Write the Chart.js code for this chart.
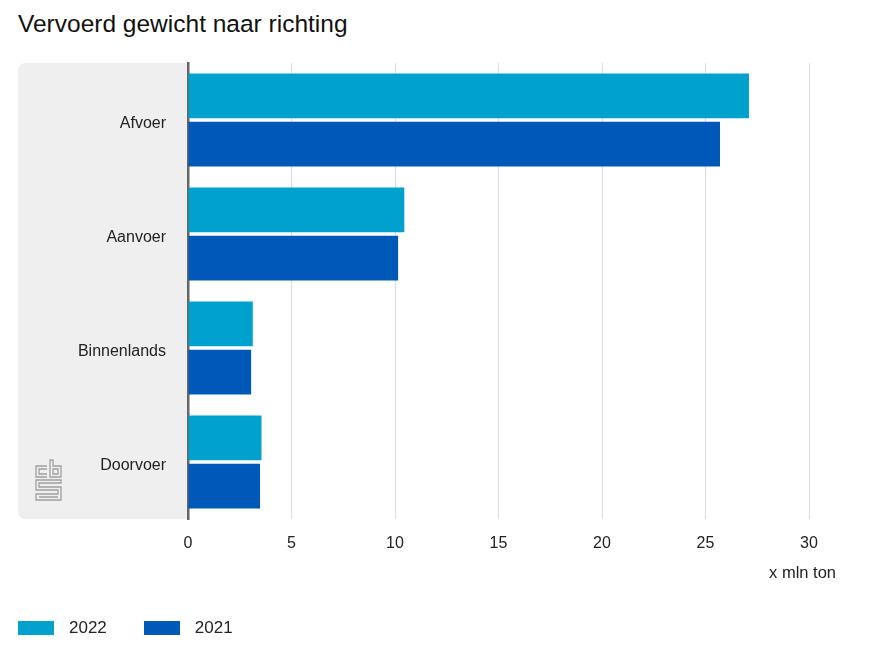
<!DOCTYPE html>
<html>
<head>
<meta charset="utf-8">
<script src="https://cdn.jsdelivr.net/npm/chart.js@4/dist/chart.umd.min.js"></script>
<style>
  body{ margin:0; background:#fff; font-family:"Liberation Sans", Arial, sans-serif; }
  #wrap{ position:relative; width:874px; height:656px; }
  #title{ position:absolute; left:18px; top:10px; font-size:24.5px; color:#111; }
  #unit{ position:absolute; right:38px; top:563px; font-size:16.5px; color:#222; }
  #legend{ position:absolute; left:18px; top:618px; display:flex; font-size:17px; color:#222; }
  .item{ display:flex; align-items:center; margin-right:37px; }
  .box{ width:36px; height:14px; margin-right:15px; }
  canvas{ position:absolute; left:0; top:0; }
</style>
</head>
<body>
<div id="wrap">
  <div id="title">Vervoerd gewicht naar richting</div>
  <canvas id="chart" width="874" height="656"></canvas>
  <div id="unit">x mln ton</div>
  <div id="legend"></div>
</div>
<script>
/* DATA */
const categories = ["Afvoer", "Aanvoer", "Binnenlands", "Doorvoer"];
const years = ["2022", "2021"];
const values2022 = [27.1, 10.45, 3.13, 3.55];
const values2021 = [25.7, 10.15, 3.05, 3.48];
const xTicks = [0, 5, 10, 15, 20, 25, 30];

const colors = ["#00a1cd", "#0058b8"];

/* GRAY PANEL + LOGO */
const panelPlugin = {
  id: "panel",
  beforeDraw(chart){
    const c = chart.ctx;
    const a = chart.chartArea;
    const x0 = 18, r = 8;
    c.save();
    c.fillStyle = "#efefef";
    c.beginPath();
    c.moveTo(a.left, a.top);
    c.lineTo(x0 + r, a.top);
    c.quadraticCurveTo(x0, a.top, x0, a.top + r);
    c.lineTo(x0, a.bottom - r);
    c.quadraticCurveTo(x0, a.bottom, x0 + r, a.bottom);
    c.lineTo(a.left, a.bottom);
    c.closePath();
    c.fill();

    // cbs logo
    c.strokeStyle = "#a0a0a0";
    c.lineWidth = 1.3;
    const lx = 36, ly = 460;
    c.beginPath();
    // c
    c.moveTo(lx + 11, ly + 6); c.lineTo(lx, ly + 6); c.lineTo(lx, ly + 17); c.lineTo(lx + 11, ly + 17);
    c.moveTo(lx + 11, ly + 9); c.lineTo(lx + 3, ly + 9); c.lineTo(lx + 3, ly + 14); c.lineTo(lx + 11, ly + 14);
    // b
    c.moveTo(lx + 14, ly); c.lineTo(lx + 14, ly + 17); c.lineTo(lx + 25, ly + 17); c.lineTo(lx + 25, ly + 6); c.lineTo(lx + 17, ly + 6); c.lineTo(lx + 17, ly);
    c.closePath();
    c.moveTo(lx + 17, ly + 9); c.lineTo(lx + 22, ly + 9); c.lineTo(lx + 22, ly + 14); c.lineTo(lx + 17, ly + 14); c.closePath();
    // s
    c.moveTo(lx + 25, ly + 20); c.lineTo(lx, ly + 20); c.lineTo(lx, ly + 30); c.lineTo(lx + 22, ly + 30);
    c.lineTo(lx + 22, ly + 34); c.lineTo(lx, ly + 34); c.lineTo(lx, ly + 40); c.lineTo(lx + 25, ly + 40);
    c.lineTo(lx + 25, ly + 27); c.lineTo(lx + 3, ly + 27); c.lineTo(lx + 3, ly + 23); c.lineTo(lx + 25, ly + 23); c.closePath();
    c.moveTo(lx + 3, ly + 37); c.lineTo(lx + 22, ly + 37);
    c.stroke();
    c.restore();
  }
};

/* CHART */
const ctx = document.getElementById("chart").getContext("2d");

new Chart(ctx, {
  type: "bar",
  data: {
    labels: categories,
    datasets: [
      { label: years[0], data: values2022, backgroundColor: colors[0] },
      { label: years[1], data: values2021, backgroundColor: colors[1] }
    ]
  },
  options: {
    indexAxis: "y",
    responsive: false,
    animation: false,
    layout: { padding: { left: 18, top: 63, right: 65, bottom: 97 } },
    datasets: { bar: { categoryPercentage: 0.847, barPercentage: 0.93 } },
    plugins: {
      legend: { display: false },
      tooltip: { enabled: false }
    },
    scales: {
      x: {
        min: 0,
        max: 30,
        afterBuildTicks(scale){ scale.ticks = xTicks.map(v => ({ value: v })); },
        afterFit(scale){ scale.height = 40; },
        border: { display: false },
        grid: { color: "#dcdcdc", lineWidth: 1, drawTicks: false },
        ticks: {
          padding: 15,
          color: "#222",
          font: { family: "Liberation Sans", size: 16 }
        }
      },
      y: {
        afterFit(scale){ scale.width = 170; },
        border: { display: true, color: "#666", width: 2.5 },
        grid: { display: false, drawTicks: false },
        ticks: {
          padding: 22,
          labelOffset: 4,
          color: "#222",
          font: { family: "Liberation Sans", size: 16 }
        }
      }
    }
  },
  plugins: [panelPlugin]
});

/* LEGEND */
const legend = document.getElementById("legend");
years.forEach((y, i) => {
  const item = document.createElement("div");
  item.className = "item";
  item.innerHTML = '<span class="box" style="background:' + colors[i] + '"></span>' + y;
  legend.appendChild(item);
});
</script>
</body>
</html>
